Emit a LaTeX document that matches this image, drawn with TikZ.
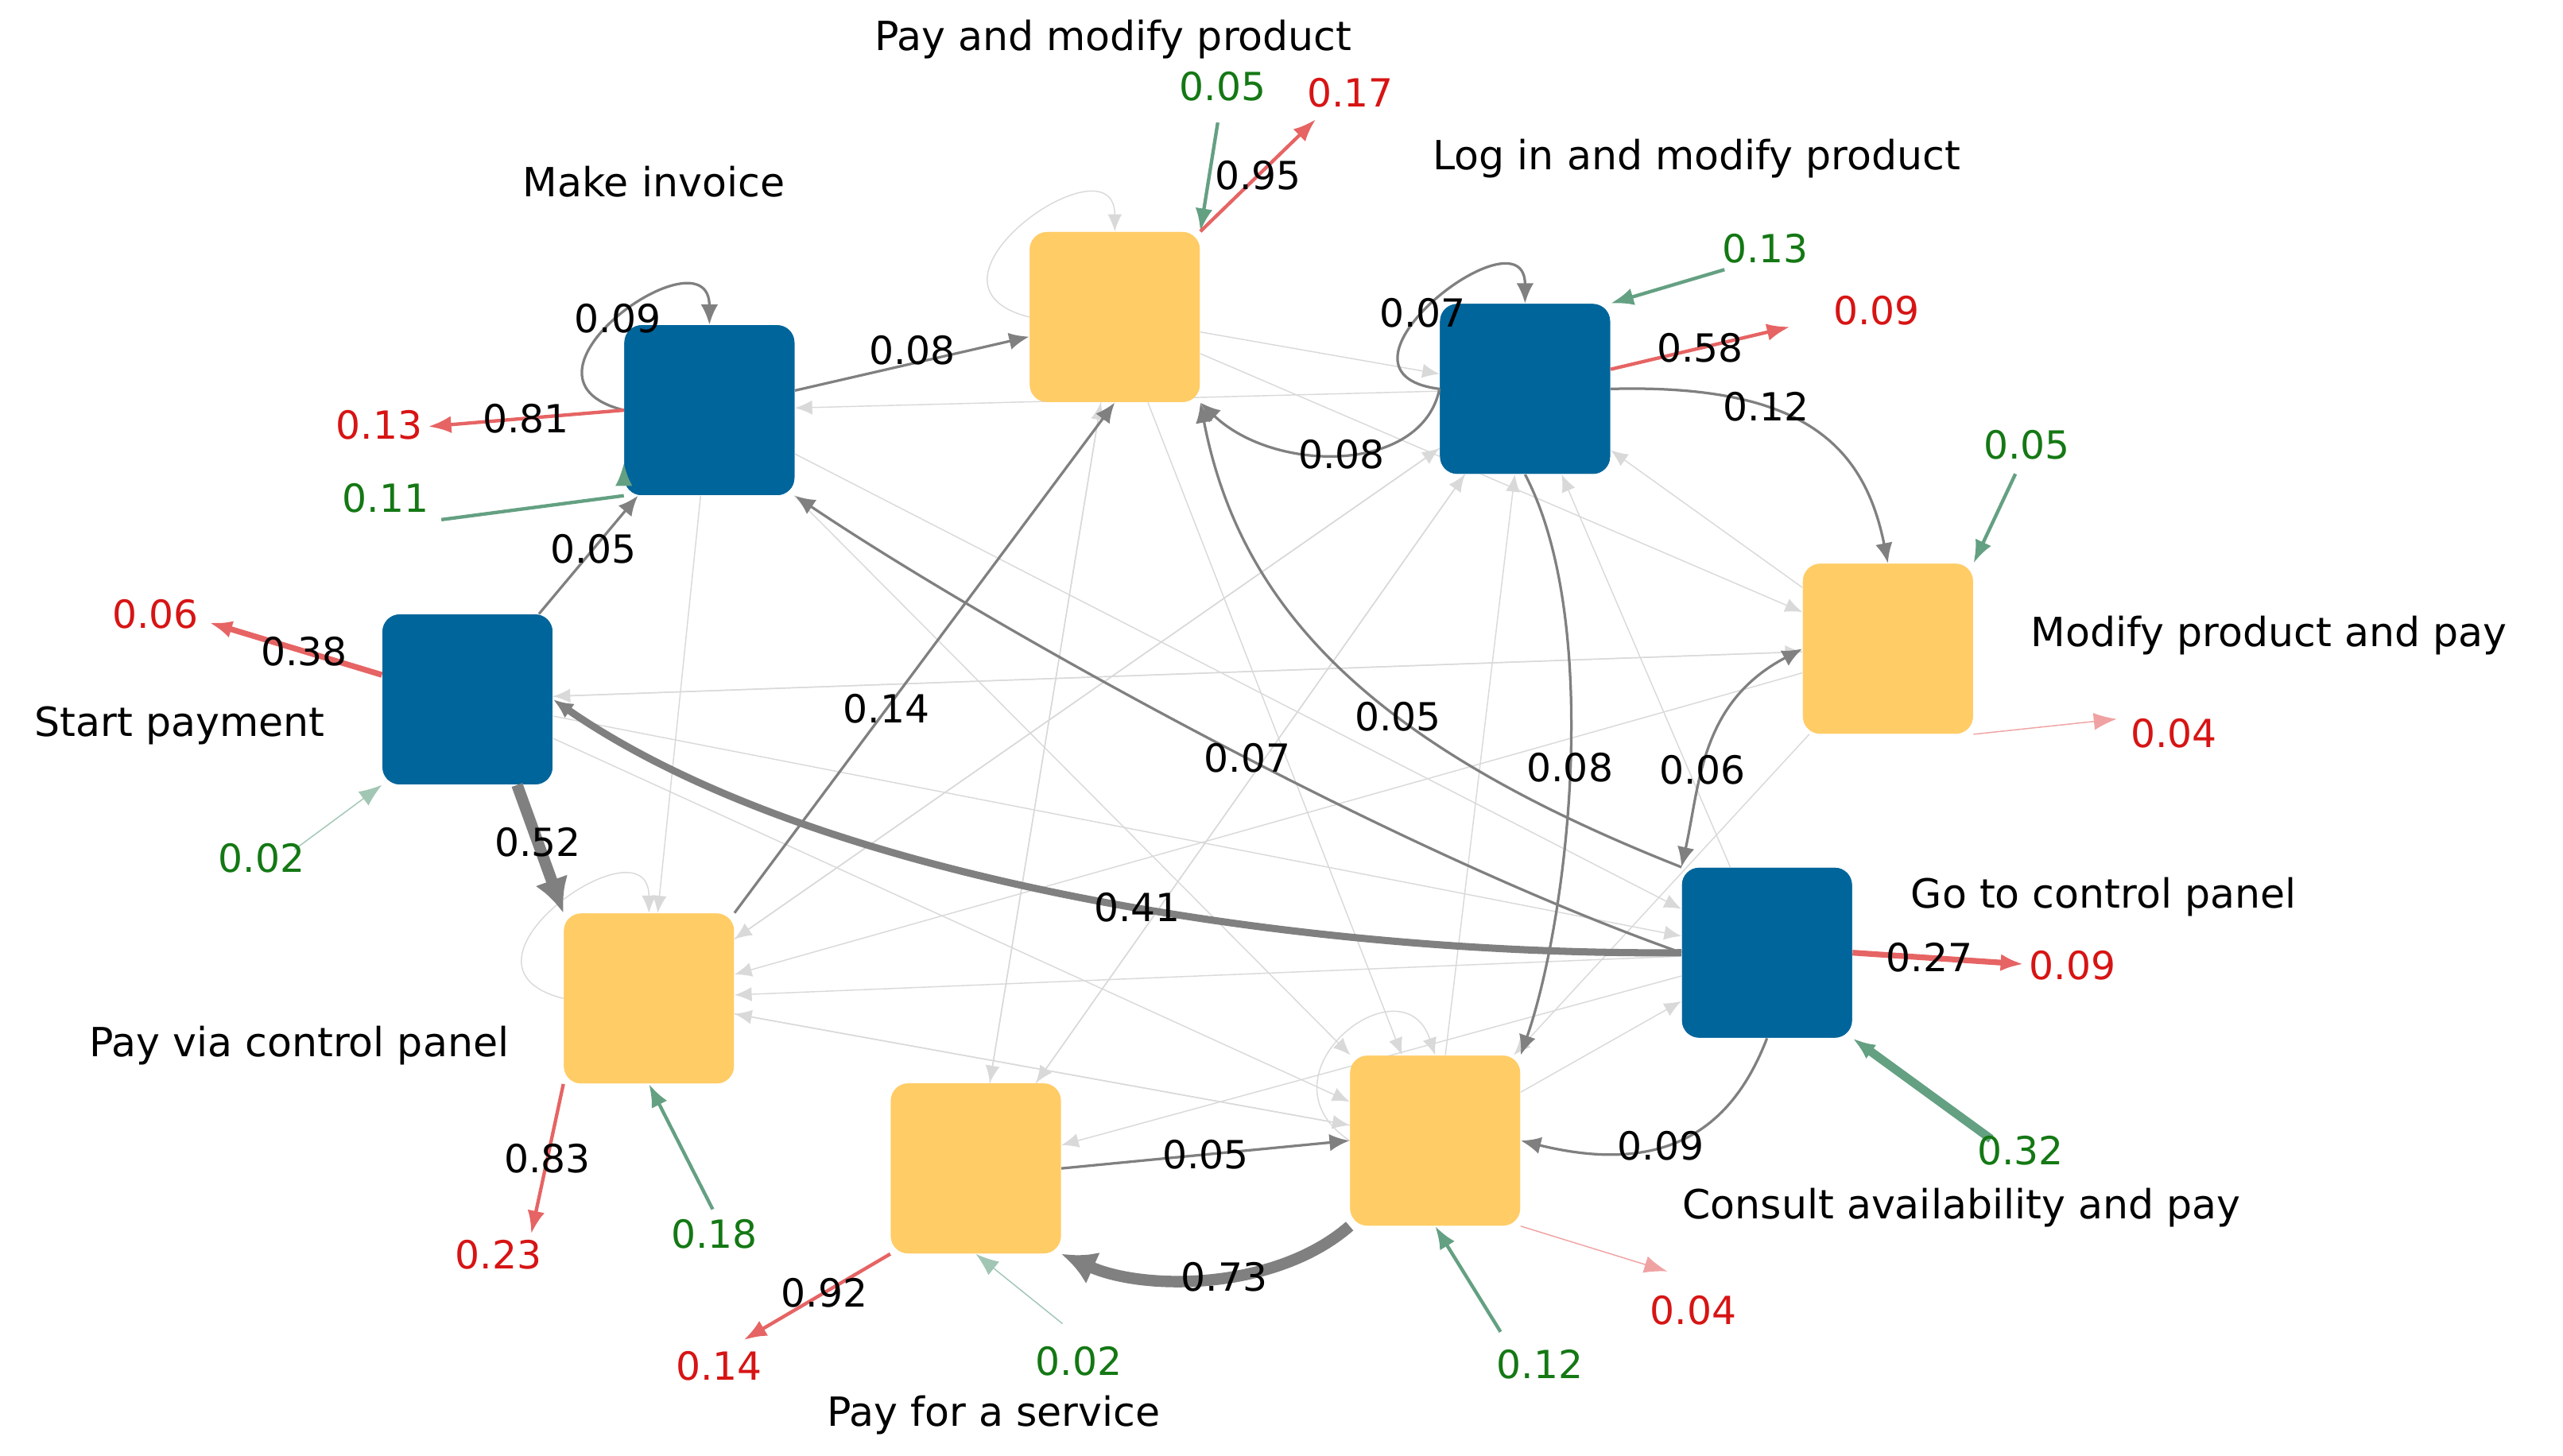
\documentclass[tikz,border=0pt]{standalone}
\usepackage{fontspec}
\setmainfont{DejaVu Sans}
\usetikzlibrary{arrows.meta}
\definecolor{actblue}{RGB}{0,101,155}
\definecolor{actyellow}{RGB}{255,204,102}
\definecolor{startgreen}{RGB}{100,160,130}
\definecolor{endred}{RGB}{230,100,100}
\definecolor{txtgreen}{RGB}{20,120,20}
\definecolor{txtred}{RGB}{215,20,20}
\tikzset{
  act/.style={rectangle,rounded corners=6pt,minimum width=2.08cm,minimum height=2.08cm,inner sep=0pt},
  blueact/.style={act,fill=actblue},
  yellowact/.style={act,fill=actyellow},
  lbl/.style={font=\fontsize{14}{16}\selectfont},
  w/.style={font=\fontsize{13.5}{15}\selectfont,inner sep=1pt},
  edge/.style={draw=gray,line width=0.9pt,-{Latex[length=7pt,width=6pt]}},
  faint/.style={draw=black!15,line width=0.4pt,-{Latex[length=6pt,width=5pt]}},
  startarr/.style={draw=startgreen,line width=1.2pt,-{Latex[length=8pt,width=6pt]}},
  endarr/.style={draw=endred,line width=1.2pt,-{Latex[length=8pt,width=6pt]}}
}
\begin{document}
\begin{tikzpicture}[x=0.02cm,y=-0.02cm]
  \useasboundingbox (0,0) rectangle (1568,891);
  % Faint edges (drawn first)
  \node at(434,251)[blueact](mi){};
  \node at(682,194)[yellowact](pm){};
  \node at(933,238)[blueact](li){};
  \node at(1155,397)[yellowact](mp){};
  \node at(1081,583)[blueact](gc){};
  \node at(878,698)[yellowact](ca){};
  \node at(597,715)[yellowact](ps){};
  \node at(397,611)[yellowact](pv){};
  \node at(286,428)[blueact](sp){};
  \begin{scope}[on background layer/.style={}]
  \foreach \a/\b in {mi/pv,mi/ca,pm/li,pm/ps,pm/ca,pm/mp,li/pv,li/ps,li/mi,mp/pv,mp/li,mp/sp,gc/pv,gc/ps,gc/li,ca/pv,ca/li,ca/gc,ps/pm,ps/li,pv/ca,pv/li,sp/mp,sp/gc,sp/ca,mi/gc,mp/ca}
    \draw[faint] (\a) -- (\b);
  \end{scope}
  % Activities (redrawn on top)
  \node at(434,251)[blueact]{};
  \node at(682,194)[yellowact]{};
  \node at(933,238)[blueact]{};
  \node at(1155,397)[yellowact]{};
  \node at(1081,583)[blueact]{};
  \node at(878,698)[yellowact]{};
  \node at(597,715)[yellowact]{};
  \node at(397,611)[yellowact]{};
  \node at(286,428)[blueact]{};
  % Activity names
  \node at(400,111)[lbl](miname){Make invoice};
  \node at(681,24)[lbl](pmname){Pay and modify product};
  \node at(1038,97)[lbl](liname){Log in and modify product};
  \node at(1388,389)[lbl](mpname){Modify product and pay};
  \node at(1287,549)[lbl](gcname){Go to control panel};
  \node at(1200,739)[lbl](caname){Consult availability and pay};
  \node at(608,866)[lbl](psname){Pay for a service};
  \node at(183,640)[lbl](pvname){Pay via control panel};
  \node at(110,444)[lbl](spname){Start payment};
  % Self loops
  \draw[edge] (mi.west) .. controls +(-80,-20) and +(0,-60) .. (mi.north) node[w,pos=0.5]{0.09};
  \draw[edge] (li.west) .. controls +(-80,-10) and +(0,-60) .. (li.north) node[w,pos=0.45]{0.07};
  \draw[faint] (pm.west) .. controls +(-80,-20) and +(0,-60) .. (pm.north);
  \draw[faint] (pv.west) .. controls +(-80,-20) and +(0,-60) .. (pv.north);
  \draw[faint] (ca.west) .. controls +(-60,-40) and +(-20,-60) .. (ca.north);
  % Labelled edges
  \draw[edge] (mi) -- (pm) node[w,pos=0.5,above=-2pt]{0.08};
  \draw[edge] (sp) -- (mi) node[w,pos=0.55]{0.05};
  \draw[edge,line width=4pt,-{Latex[length=12pt,width=12pt]}] (sp.south east) ++(-22,0) coordinate(spa) (spa) -- (pv.north west) node[w,pos=0.45]{0.52};
  \draw[edge,line width=2.5pt] (gc.west) .. controls (800,585) and (500,540) .. (sp.east) node[w,pos=0.45]{0.41};
  \draw[edge] (gc.west) .. controls (850,520) and (600,380) .. (mi.south east) node[w,pos=0.45]{0.07};
  \draw[edge] (gc.north west) .. controls (850,460) and (760,380) .. (pm.south east) node[w,pos=0.4]{0.05};
  \draw[edge] (pv.north east) -- (pm.south) node[w,pos=0.4]{0.14};
  \draw[edge] (li.west) .. controls (870,290) and (780,290) .. (pm.south east) node[w,pos=0.5]{0.08};
  \draw[edge] (li.east) .. controls (1100,235) and (1140,270) .. (mp.north) node[w,pos=0.35]{0.12};
  \draw[edge] (li.south) .. controls (980,380) and (960,560) .. (ca.north east) node[w,pos=0.5]{0.08};
  \draw[edge,{Latex[length=7pt,width=6pt]}-{Latex[length=7pt,width=6pt]}] (mp.west) .. controls (1040,430) and (1040,480) .. (gc.north west) node[w,pos=0.6]{0.06};
  \draw[edge] (gc.south) .. controls (1060,690) and (1020,720) .. (ca.east) node[w,pos=0.6]{0.09};
  \draw[edge] (ps.east) -- (ca.west) node[w,pos=0.5]{0.05};
  \draw[edge,line width=4pt,-{Latex[length=12pt,width=12pt]}] (ca.south west) .. controls (780,790) and (700,790) .. (ps.south east) node[w,pos=0.45]{0.73};
  % Start and end arrows
  \coordinate (miin) at (270,318); \coordinate (miout) at (262,261);
  \draw[startarr] (miin) -- (mi.south west) ++(0,-20); \node at(236,305)[w,txtgreen](miinw){0.11};
  \draw[endarr] (mi.west) -- (miout) node[w,pos=0.5,text=black]{0.81}; \node at(232,260)[w,txtred](mioutw){0.13};
  \coordinate (pmin) at (745,75); \coordinate (pmout) at (805,73);
  \draw[startarr] (pmin) -- (pm.north east); \node at(748,53)[w,txtgreen]{0.05};
  \draw[endarr] (pm.north east) -- (pmout) node[w,pos=0.5,text=black]{0.95}; \node at(826,57)[w,txtred]{0.17};
  \coordinate (liin) at (1055,165); \coordinate (liout) at (1095,200);
  \draw[startarr] (liin) -- (li.north east); \node at(1080,152)[w,txtgreen]{0.13};
  \draw[endarr] (li.east) ++(0,-12) coordinate(lie) (lie) -- (liout) node[w,pos=0.5,text=black]{0.58}; \node at(1148,190)[w,txtred]{0.09};
  \coordinate (mpin) at (1233,290); \coordinate (mpout) at (1295,440);
  \draw[startarr] (mpin) -- (mp.north east); \node at(1240,272)[w,txtgreen]{0.05};
  \draw[endarr,line width=0.4pt,draw=endred!60] (mp.south east) -- (mpout); \node at(1330,449)[w,txtred]{0.04};
  \coordinate (gcin) at (1218,697); \coordinate (gcout) at (1238,590);
  \draw[startarr,line width=3pt] (gcin) -- (gc.south east); \node at(1236,704)[w,txtgreen]{0.32};
  \draw[endarr,line width=2pt] (gc.east) -- (gcout) node[w,pos=0.45,text=black]{0.27}; \node at(1268,591)[w,txtred]{0.09};
  \coordinate (cain) at (918,815); \coordinate (caout) at (1020,778);
  \draw[startarr] (cain) -- (ca.south); \node at(942,835)[w,txtgreen]{0.12};
  \draw[endarr,line width=0.4pt,draw=endred!60] (ca.south east) -- (caout); \node at(1036,802)[w,txtred]{0.04};
  \coordinate (psin) at (650,810); \coordinate (psout) at (455,820);
  \draw[startarr,line width=0.4pt,draw=startgreen!60] (psin) -- (ps.south); \node at(660,833)[w,txtgreen]{0.02};
  \draw[endarr] (ps.south west) -- (psout) node[w,pos=0.45,text=black]{0.92}; \node at(440,836)[w,txtred]{0.14};
  \coordinate (pvin) at (436,740); \coordinate (pvout) at (325,755);
  \draw[startarr] (pvin) -- (pv.south); \node at(437,755)[w,txtgreen]{0.18};
  \draw[endarr] (pv.south west) -- (pvout) node[w,pos=0.5,text=black]{0.83}; \node at(305,768)[w,txtred]{0.23};
  \coordinate (spin) at (180,520); \coordinate (spout) at (128,381);
  \draw[startarr,line width=0.4pt,draw=startgreen!60] (spin) -- (sp.south west); \node at(160,525)[w,txtgreen]{0.02};
  \draw[endarr,line width=2pt] (sp.west) ++(0,-15) coordinate(spw) (spw) -- (spout) node[w,pos=0.45,text=black]{0.38}; \node at(95,376)[w,txtred]{0.06};
\end{tikzpicture}
\end{document}
